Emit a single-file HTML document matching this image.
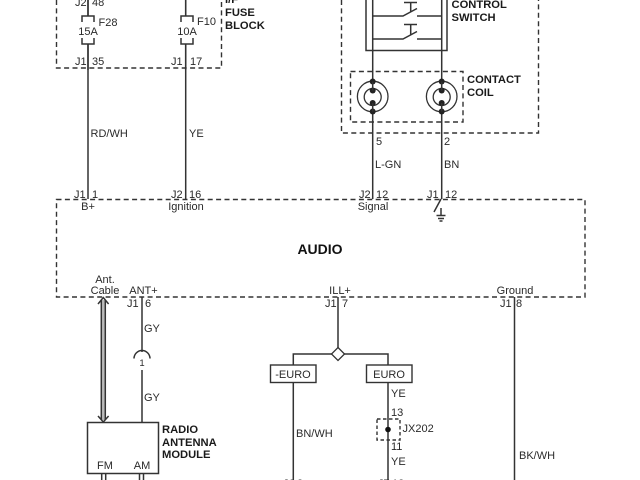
<!DOCTYPE html>
<html><head><meta charset="utf-8"><style>
html,body{margin:0;padding:0;background:#fff;width:640px;height:480px;overflow:hidden}
svg{display:block;filter:blur(0.35px)}
text{font-family:"Liberation Sans",sans-serif;font-size:11px;fill:#2a2a2a}
.b{font-weight:bold;font-size:11.2px;fill:#1a1a1a}
.l{fill:none;stroke:#333;stroke-width:1.5}
.d{fill:none;stroke:#333;stroke-width:1.4;stroke-dasharray:5 3.4}
.m{text-anchor:middle}
</style></head><body>
<svg width="640" height="480" viewBox="0 0 640 480" xmlns="http://www.w3.org/2000/svg">
<!-- Fuse block -->
<path class="d" d="M56.500 0V68H221.500V0"/>
<path class="l" d="M88 0V199M185.700 0V199"/>
<path fill="#fff" stroke="none" d="M82 16.500h12v27h-12zM179.500 16.500h12v27h-12z"/>
<path class="l" d="M82 22V16H94V22M82 38V44H94V38M181 22V16H193V22M181 38V44H193V38"/>
<path class="l" d="M88 0V16M88 44V70M185.700 0V16M185.700 44V70"/>
<text x="75" y="6">J2</text><text x="92" y="6">48</text>
<text x="98.500" y="26">F28</text><text x="197" y="25">F10</text>
<text x="88" y="35" class="m">15A</text><text x="187" y="35" class="m">10A</text>
<text x="75" y="65">J1</text><text x="92" y="65">35</text>
<text x="171" y="65">J1</text><text x="190" y="65">17</text>
<text x="225" y="3" class="b">I/F</text><text x="225" y="16" class="b">FUSE</text><text x="225" y="29" class="b">BLOCK</text>
<!-- Control switch -->
<path class="d" d="M341.500 0V133H538.500V0"/>
<path class="l" d="M366 0V50.500H447V0"/>
<path class="l" d="M372.700 0V199M441.700 0V199"/>
<path class="l" d="M372.700 16H403L417 8.500M417 16H441.700M404 2.500H417M410.700 2.500V12M372.700 39H403L417 31.500M417 39H441.700M404 24.500H417M410.700 24.500V35"/>
<text x="451.500" y="8" class="b">CONTROL</text><text x="451.500" y="21" class="b">SWITCH</text>
<path class="d" d="M350.500 71.500H463V122H350.500Z"/>
<text x="467" y="83" class="b">CONTACT</text><text x="467" y="96" class="b">COIL</text>
<g fill="#fff" stroke="#333" stroke-width="1.300">
<circle cx="372.700" cy="96.500" r="15.300"/><circle cx="372.700" cy="97" r="8.500"/>
<circle cx="441.700" cy="96.500" r="15.300"/><circle cx="441.700" cy="97" r="8.500"/>
</g>
<g fill="#222">
<circle cx="372.700" cy="81.500" r="3"/><circle cx="372.700" cy="90.500" r="3"/><circle cx="372.700" cy="103" r="3"/><circle cx="372.700" cy="111.500" r="3"/>
<circle cx="441.700" cy="81.500" r="3"/><circle cx="441.700" cy="90.500" r="3"/><circle cx="441.700" cy="103" r="3"/><circle cx="441.700" cy="111.500" r="3"/>
</g>
<path class="l" d="M372.700 81.500V90.500M372.700 103V111.500M441.700 81.500V90.500M441.700 103V111.500"/>
<text x="376" y="145">5</text><text x="444" y="145">2</text>
<text x="90.500" y="137">RD/WH</text><text x="189" y="137">YE</text>
<text x="375" y="168">L-GN</text><text x="444" y="168">BN</text>
<!-- Audio -->
<path class="d" d="M56.500 199.500H585V297H56.500Z"/>
<text x="74" y="198">J1</text><text x="92" y="198">1</text>
<text x="171" y="198">J2</text><text x="189" y="198">16</text>
<text x="359" y="198">J2</text><text x="376" y="198">12</text>
<text x="427" y="198">J1</text><text x="445" y="198">12</text>
<text x="88" y="210" class="m">B+</text><text x="186" y="210" class="m">Ignition</text><text x="373" y="210" class="m">Signal</text>
<path class="l" d="M441 199L434 212M441 208V215M436.500 215.500H445.500M438 218.500H444M439.500 221H442.500"/>
<text x="320" y="254" class="m" style="font-weight:bold;font-size:14px;fill:#111">AUDIO</text>
<text x="105" y="283" class="m">Ant.</text><text x="105" y="294" class="m">Cable</text>
<text x="143.500" y="294" class="m">ANT+</text><text x="340" y="294" class="m">ILL+</text><text x="515" y="294" class="m">Ground</text>
<text x="127" y="307">J1</text><text x="145" y="307">6</text>
<text x="325" y="307">J1</text><text x="342" y="307">7</text>
<text x="500" y="307">J1</text><text x="516" y="307">8</text>
<!-- Antenna -->
<rect x="101.300" y="300" width="4" height="120" fill="#bbb"/>
<path class="l" d="M101.300 300V420M105.300 300V420M98 304L103.300 297.500L108.600 304M98 416L103.300 422L108.600 416"/>
<path class="l" d="M142 297V352M142 370V422"/>
<path class="l" d="M134 358.500A8 8 0 0 1 150 358.500"/>
<text x="142" y="366" class="m" style="font-size:9.500px">1</text>
<text x="144" y="332">GY</text><text x="144" y="401">GY</text>
<rect x="87.500" y="422.500" width="71" height="51" fill="#fff" stroke="#333" stroke-width="1.500"/>
<text x="105" y="469" class="m">FM</text><text x="142" y="469" class="m">AM</text>
<text x="162" y="433" class="b">RADIO</text><text x="162" y="446" class="b">ANTENNA</text><text x="162" y="458" class="b">MODULE</text>
<path class="l" d="M101.700 473V480M105.700 473V480M139.500 473V480M143.500 473V480"/>
<!-- ILL -->
<path class="l" d="M338 297V348M293.300 365V354H332M344 354H388V365"/>
<path d="M338 347.500L344.500 354L338 360.500L331.500 354Z" fill="#fff" stroke="#333" stroke-width="1.300"/>
<rect x="270.500" y="365" width="45.500" height="17.500" fill="#fff" stroke="#333" stroke-width="1.400"/>
<rect x="366.500" y="365" width="45.500" height="17.500" fill="#fff" stroke="#333" stroke-width="1.400"/>
<text x="293" y="378" class="m">-EURO</text><text x="389" y="378" class="m">EURO</text>
<path class="l" d="M293.300 382.500V480M388 382.500V480"/>
<path class="d" style="stroke-dasharray:3.500 2.500" d="M377 419H400V440H377Z"/>
<circle cx="388" cy="429.500" r="2.800" fill="#111"/>
<text x="391" y="397">YE</text><text x="391" y="416">13</text><text x="402.500" y="432">JX202</text>
<text x="391" y="450">11</text><text x="391" y="465">YE</text>
<text x="296" y="437">BN/WH</text>
<text x="283" y="487">J6</text><text x="297" y="487">8</text>
<text x="378" y="487">J7</text><text x="392" y="487">12</text>
<path class="l" d="M514.500 297V480"/>
<text x="519" y="459">BK/WH</text>
</svg>
</body></html>
